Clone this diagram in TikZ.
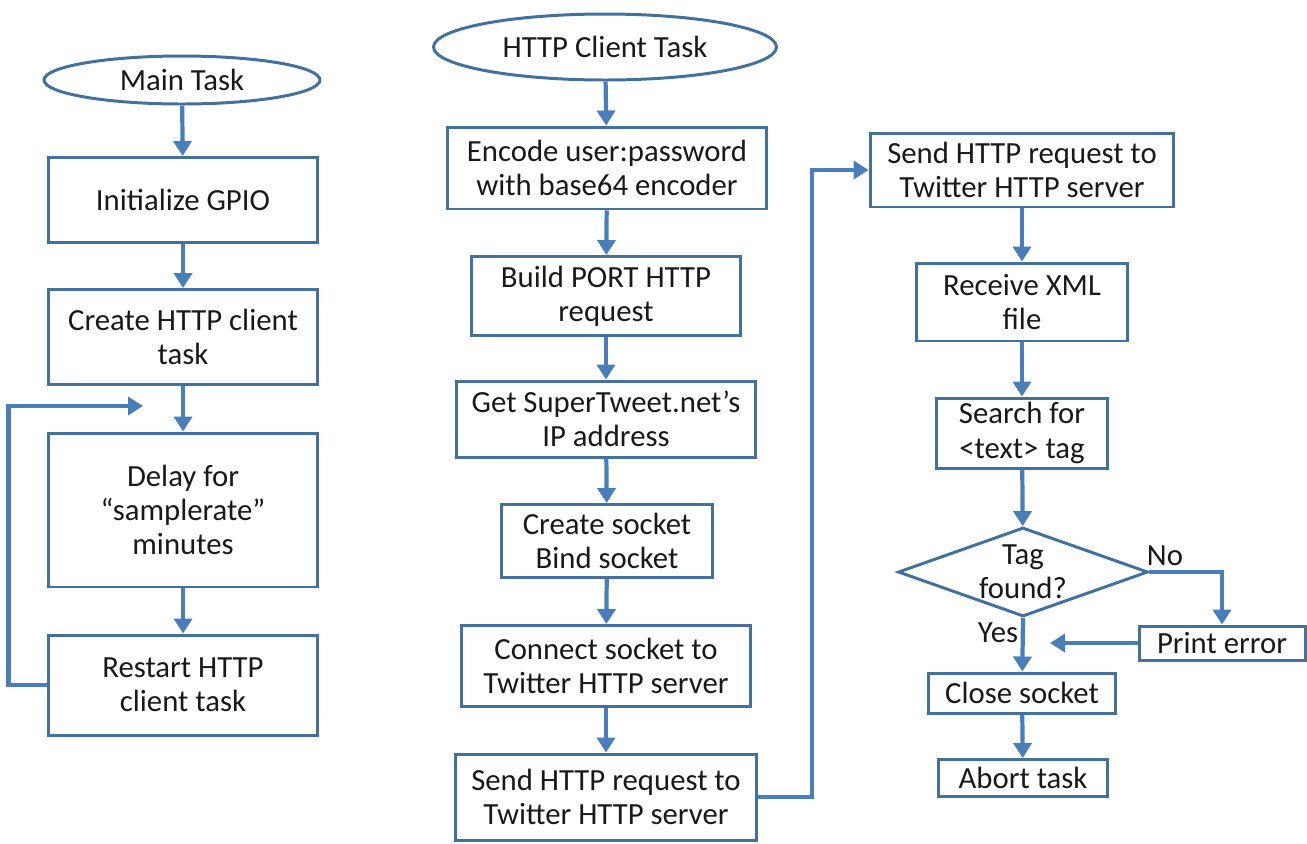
\documentclass[tikz,border=0pt]{standalone}
\usepackage{fontspec}
\setmainfont{Carlito}
\usetikzlibrary{shapes.geometric,arrows.meta}

\definecolor{boxblue}{RGB}{65,113,156}
\definecolor{flowblue}{RGB}{74,126,187}

\tikzset{
  proc/.style={draw=boxblue, line width=1.7pt, rectangle, align=center,
    inner sep=1pt, text=black!90},
  term/.style={draw=boxblue, line width=1.7pt, ellipse, align=center,
    inner sep=1pt, text=black!90},
  decision/.style={draw=boxblue, line width=1.7pt, diamond, aspect=2.7,
    inner sep=0pt, align=center, text=black!90},
  flow/.style={draw=flowblue, line width=2.4pt,
    -{Triangle[width=0.36cm,length=0.3cm]}},
  tag/.style={text=black!90}
}

\begin{document}
\begin{tikzpicture}[x=0.02cm, y=-0.02cm, font=\fontsize{17.5}{19.5}\selectfont]
  \useasboundingbox (0,0) rectangle (1307,843);

  % main task
  \node[term, minimum width=5.52cm, minimum height=0.96cm] (maintask) at (182,80) {Main Task};
  \node[proc, minimum width=5.4cm, minimum height=1.7cm] (gpio) at (183,200) {Initialize GPIO};
  \node[proc, minimum width=5.4cm, minimum height=1.9cm] (create) at (183,337) {Create HTTP client\\task};
  \node[proc, minimum width=5.4cm, minimum height=3.08cm] (delay) at (183,510) {Delay for\\``samplerate''\\minutes};
  \node[proc, minimum width=5.4cm, minimum height=2.0cm] (restart) at (183,685) {Restart HTTP\\client task};
  \coordinate (loopin) at (143,406);

  \draw[flow] (maintask) -- (gpio);
  \draw[flow] (gpio) -- (create);
  \draw[flow] (create) -- (delay);
  \draw[flow] (delay) -- (restart);
  \draw[flow] (restart.west) -- ++(-38,0) |- (loopin);

  % http client task
  \node[term, minimum width=6.86cm, minimum height=1.32cm] (clienttask) at (605,47) {HTTP Client Task};
  \node[proc, minimum width=6.4cm, minimum height=1.64cm] (encode) at (607,168) {Encode user:password\\with base64 encoder};
  \node[proc, minimum width=5.38cm, minimum height=1.58cm] (build) at (606,296) {Build PORT HTTP\\request};
  \node[proc, minimum width=5.98cm, minimum height=1.52cm] (getip) at (606,419) {Get SuperTweet.net’s\\IP address};
  \node[proc, minimum width=4.22cm, minimum height=1.46cm] (sock) at (607,541) {Create socket\\Bind socket};
  \node[proc, minimum width=5.8cm, minimum height=1.62cm] (connect) at (606,666) {Connect socket to\\Twitter HTTP server};
  \node[proc, minimum width=6.04cm, minimum height=1.72cm] (senda) at (606,797) {Send HTTP request to\\Twitter HTTP server};
  \coordinate (turn) at (812,170);

  \draw[flow] (clienttask) -- (encode);
  \draw[flow] (encode) -- (build);
  \draw[flow] (build) -- (getip);
  \draw[flow] (getip) -- (sock);
  \draw[flow] (sock) -- (connect);
  \draw[flow] (connect) -- (senda);

  % right column
  \node[proc, minimum width=6.08cm, minimum height=1.48cm] (sendb) at (1022,170) {Send HTTP request to\\Twitter HTTP server};
  \node[proc, minimum width=4.22cm, minimum height=1.56cm] (receive) at (1022,302) {Receive XML\\file};
  \node[proc, minimum width=3.42cm, minimum height=1.4cm] (search) at (1022,433) {Search for\\<text> tag};
  \node[decision, minimum width=5cm, minimum height=1.78cm] (tagq) at (1023,572) {Tag\\found?};
  \node[proc, minimum width=3.32cm, minimum height=0.68cm] (printerr) at (1222,643) {Print error};
  \node[proc, minimum width=3.74cm, minimum height=0.8cm] (closes) at (1022,693) {Close socket};
  \node[proc, minimum width=3.38cm, minimum height=0.74cm] (abort) at (1023,778) {Abort task};
  \node[tag] (nolbl) at (1165,556) {No};
  \node[tag] (yeslbl) at (998,633) {Yes};
  \coordinate (errin) at (1050,643);

  \draw[flow] (senda.east) -| (turn) -- (sendb.west);
  \draw[flow] (sendb) -- (receive);
  \draw[flow] (receive) -- (search);
  \draw[flow] (search) -- (tagq);
  \draw[flow] (tagq.east) -| (printerr.north);
  \draw[flow] (printerr.west) -- (errin);
  \draw[flow] (tagq.south) -- (closes);
  \draw[flow] (closes) -- (abort);
\end{tikzpicture}
\end{document}
